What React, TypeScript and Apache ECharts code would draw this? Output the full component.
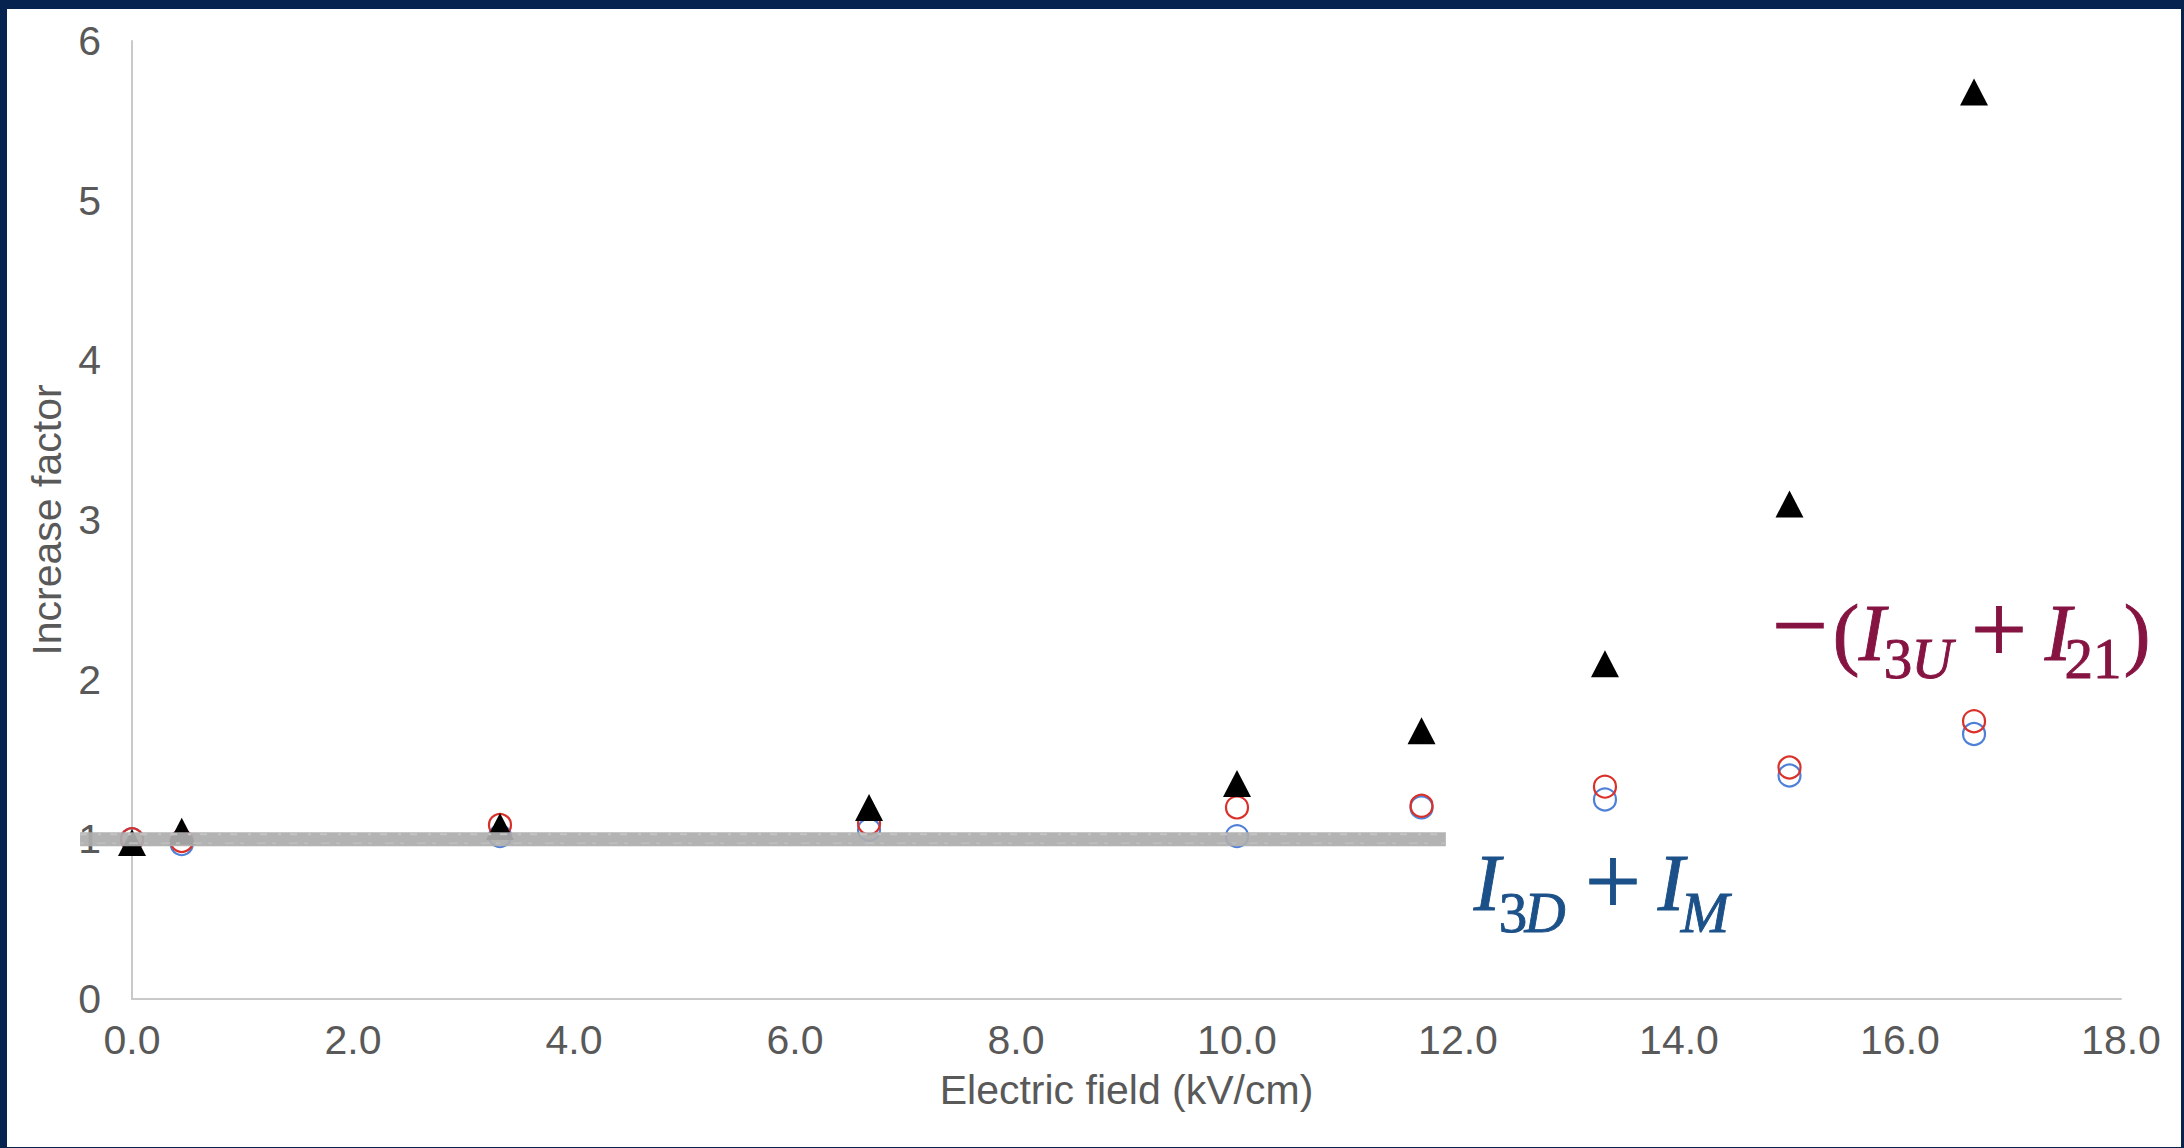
import React, { useEffect, useRef } from "react";
import * as echarts from "echarts";

// ---- data ----
const fieldKV = [0, 0.45, 3.33, 6.67, 10, 11.67, 13.33, 15, 16.67];
const triangleVals = [0.98, 1.05, 1.08, 1.2, 1.35, 1.68, 2.1, 3.1, 5.68];
const redVals = [1.0, 0.99, 1.09, 1.1, 1.2, 1.21, 1.33, 1.45, 1.74];
const blueVals = [1.0, 0.97, 1.02, 1.06, 1.02, 1.2, 1.25, 1.4, 1.66];
const baselineX = [-0.47, 11.89];
const baselineY = [1, 1];
const yTicks = [0, 1, 2, 3, 4, 5, 6];
const xTicks = [0, 2, 4, 6, 8, 10, 12, 14, 16, 18];

const OFF_X = 7;
const OFF_Y = 9;

const maroon = "#861443";
const blueTxt = "#1B5088";

type Piece = { t: string; cx: number; base: number; size: number; italic: boolean; color: string };

const pieces: Piece[] = [
  // -(I_3U + I_21)
  { t: "\u2212", cx: 1800, base: 659, size: 100, italic: false, color: maroon },
  { t: "(", cx: 1846, base: 660, size: 80, italic: false, color: maroon },
  { t: "I", cx: 1872, base: 660, size: 80, italic: true, color: maroon },
  { t: "3", cx: 1898, base: 678, size: 57, italic: false, color: maroon },
  { t: "U", cx: 1932, base: 678, size: 57, italic: true, color: maroon },
  { t: "+", cx: 1999, base: 663, size: 100, italic: false, color: maroon },
  { t: "I", cx: 2058, base: 660, size: 80, italic: true, color: maroon },
  { t: "21", cx: 2093, base: 678, size: 57, italic: false, color: maroon },
  { t: ")", cx: 2137, base: 660, size: 80, italic: false, color: maroon },
  // I_3D + I_M
  { t: "I", cx: 1487, base: 910, size: 80, italic: true, color: blueTxt },
  { t: "3", cx: 1513, base: 932, size: 57, italic: false, color: blueTxt },
  { t: "D", cx: 1545, base: 932, size: 57, italic: true, color: blueTxt },
  { t: "+", cx: 1613, base: 915, size: 100, italic: false, color: blueTxt },
  { t: "I", cx: 1671, base: 910, size: 80, italic: true, color: blueTxt },
  { t: "M", cx: 1705, base: 932, size: 58, italic: true, color: blueTxt },
];

export default function App() {
  const ref = useRef<HTMLDivElement>(null);

  useEffect(() => {
    if (!ref.current) return;
    const chart = echarts.init(ref.current, undefined, { renderer: "svg" });

    const zip = (xs: number[], ys: number[]) => xs.map((x, i) => [x, ys[i]]);

    const graphic = pieces.map((p) => ({
      type: "text",
      x: p.cx - OFF_X,
      y: p.base - OFF_Y - p.size * 0.3375,
      z: 100,
      style: {
        text: p.t,
        fill: p.color,
        stroke: p.color,
        lineWidth: 0.9,
        fontSize: p.size,
        fontFamily: '"Liberation Serif", "Times New Roman", serif',
        fontStyle: p.italic ? "italic" : "normal",
        textAlign: "center",
        textVerticalAlign: "middle",
        align: "center",
        verticalAlign: "middle",
      },
    }));

    const sansFont = '"Liberation Sans", Arial, sans-serif';

    chart.setOption({
      animation: false,
      backgroundColor: "#ffffff",
      textStyle: { fontFamily: sansFont },
      grid: { left: 125, top: 32, width: 1989, height: 958, containLabel: false },
      xAxis: {
        type: "value",
        min: xTicks[0],
        max: xTicks[xTicks.length - 1],
        interval: 2,
        name: "Electric field (kV/cm)",
        nameLocation: "middle",
        nameGap: 70,
        nameTextStyle: { color: "#595959", fontSize: 41, fontFamily: sansFont },
        axisLine: { show: true, lineStyle: { color: "#C9C9C9", width: 2 } },
        axisTick: { show: false },
        splitLine: { show: false },
        axisLabel: {
          color: "#595959",
          fontSize: 41,
          margin: 20,
          formatter: (v: number) => v.toFixed(1),
        },
      },
      yAxis: {
        type: "value",
        min: yTicks[0],
        max: yTicks[yTicks.length - 1],
        interval: 1,
        name: "Increase factor",
        nameLocation: "middle",
        nameGap: 61,
        nameTextStyle: { color: "#595959", fontSize: 41, fontFamily: sansFont },
        axisLine: { show: true, lineStyle: { color: "#C9C9C9", width: 2 } },
        axisTick: { show: false },
        splitLine: { show: false },
        axisLabel: { color: "#595959", fontSize: 41, margin: 31 },
      },
      series: [
        {
          name: "blue",
          type: "scatter",
          data: zip(fieldKV, blueVals),
          symbol: "circle",
          symbolSize: 22,
          itemStyle: { color: "rgba(0,0,0,0)", borderColor: "#4F80D8", borderWidth: 2.2, opacity: 1 },
          z: 2,
        },
        {
          name: "red",
          type: "scatter",
          data: zip(fieldKV, redVals),
          symbol: "circle",
          symbolSize: 22,
          itemStyle: { color: "rgba(0,0,0,0)", borderColor: "#D93029", borderWidth: 2.2, opacity: 1 },
          z: 3,
        },
        {
          name: "triangle",
          type: "scatter",
          data: zip(fieldKV, triangleVals),
          symbol: "triangle",
          symbolSize: [28, 27],
          itemStyle: { color: "#000000", opacity: 1 },
          z: 4,
        },
        {
          name: "baseline",
          type: "custom",
          clip: false,
          z: 5,
          data: [[baselineX[0], baselineY[0], baselineX[1], baselineY[1]]],
          encode: { x: [0, 2], y: [1, 3] },
          renderItem: (params: any, api: any) => {
            const p0 = api.coord([api.value(0), api.value(1)]);
            const p1 = api.coord([api.value(2), api.value(3)]);
            return {
              type: "group",
              children: [
                {
                  type: "line",
                  shape: { x1: p0[0], y1: p0[1], x2: p1[0], y2: p1[1] },
                  style: { stroke: "#ADADAD", lineWidth: 14, opacity: 0.93 },
                },
                {
                  type: "line",
                  shape: { x1: p0[0], y1: p0[1] - 5, x2: p1[0], y2: p1[1] - 5 },
                  style: { stroke: "#C4C4C4", lineWidth: 2, lineDash: [7, 11, 3, 9] },
                },
                {
                  type: "line",
                  shape: { x1: p0[0], y1: p0[1] + 4, x2: p1[0], y2: p1[1] + 4 },
                  style: { stroke: "#BDBDBD", lineWidth: 2, lineDash: [4, 13, 9, 6] },
                },
              ],
            };
          },
        },
      ],
      graphic,
    });

    return () => chart.dispose();
  }, []);

  return (
    <div
      style={{
        position: "fixed",
        left: 0,
        top: 0,
        width: 2184,
        height: 1148,
        background: "#06224F",
      }}
    >
      <div
        ref={ref}
        style={{
          position: "absolute",
          left: OFF_X,
          top: OFF_Y,
          width: 2184 - OFF_X - 3,
          height: 1148 - OFF_Y - 1,
          background: "#ffffff",
        }}
      />
    </div>
  );
}
